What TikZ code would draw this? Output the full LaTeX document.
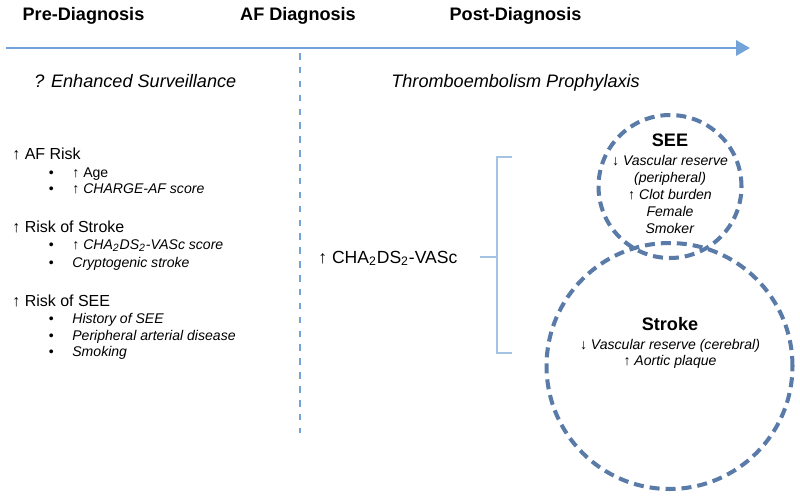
\documentclass[tikz,border=0pt]{standalone}
\usepackage{fontspec}
\setmainfont{Liberation Sans}
\usepackage{tikz}
\usetikzlibrary{positioning, arrows.meta}
\definecolor{lineblue}{HTML}{74A3DA}
\definecolor{ringblue}{HTML}{5A7BA8}
\definecolor{brackblue}{HTML}{A4C4E6}
\newcommand{\bul}{\llap{\textbullet\hskip 10.5pt}}
\newcommand{\ringhead}[1]{{\fontsize{10.3}{12}\selectfont\bfseries #1}}

\begin{document}
\begin{tikzpicture}[x=0.02cm, y=-0.02cm,
  phase/.style={font=\bfseries\fontsize{10.3}{12}\selectfont, anchor=base, inner sep=0pt},
  aim/.style={font=\itshape\fontsize{10.3}{12}\selectfont, anchor=base west, inner sep=0pt},
  risk/.style={font=\fontsize{9.1}{11}\selectfont, anchor=base west, inner sep=0pt},
  item/.style={font=\fontsize{8}{10}\selectfont, anchor=base west, inner sep=0pt},
  ring/.style={circle, draw=ringblue, line width=2.3pt, dash pattern=on 5.7pt off 3.4pt, inner sep=0pt},
  ringtext/.style={font=\fontsize{8}{9.6}\selectfont, align=center, anchor=north, inner sep=0pt}]
\useasboundingbox (0,0) rectangle (800,498);
\coordinate (t0) at (6,48);
\coordinate (t1) at (750,48);
\draw[lineblue, line width=1.7pt, -{Triangle[length=7.9pt, width=8.5pt]}] (t0) -- (t1);
\coordinate (d0) at (300,53);
\coordinate (d1) at (300,433);
\draw[lineblue, line width=0.8pt, dash pattern=on 3.7pt off 4.2pt] (d0) -- (d1);
\node[phase] (pre) at (83.5,20) {Pre-Diagnosis};
\node[phase] (afd) at (298,20) {AF Diagnosis};
\node[phase] (post) at (515.5,20) {Post-Diagnosis};
\node[aim] (surv) at (34,87) {? Enhanced Surveillance};
\node[aim] (proph) at (391,87) {Thromboembolism Prophylaxis};
\node[risk] (afrisk) at (12,159) {↑ AF Risk};
\node[item] (age) at (72,177) {\bul↑ Age};
\node[item] (charge) at (72,193) {\bul↑ \textit{CHARGE-AF score}};
\node[risk] (strrisk) at (12,232) {↑ Risk of Stroke};
\node[item] (vasc) at (72,249) {\bul↑ \textit{CHA\textsubscript{2}DS\textsubscript{2}-VASc score}};
\node[item] (crypto) at (72,267) {\bul\textit{Cryptogenic stroke}};
\node[risk] (seerisk) at (12,306) {↑ Risk of SEE};
\node[item] (hist) at (72,323) {\bul\textit{History of SEE}};
\node[item] (pad) at (72,340) {\bul\textit{Peripheral arterial disease}};
\node[item] (smok) at (72,356) {\bul\textit{Smoking}};
\node[risk, font=\fontsize{10}{12}\selectfont] (cha) at (318,263) {↑ CHA\textsubscript{2}DS\textsubscript{2}-VASc};
\coordinate (bs) at (480,257);
\coordinate (bm) at (497,257);
\coordinate (bt) at (512,157);
\coordinate (bb) at (512,353);
\draw[brackblue, line width=0.6pt] (bs) -- (bm);
\draw[brackblue, line width=0.6pt] (bt) -| (bm) |- (bb);
\node[ring, minimum size=2.86cm] (see) at (670,186.5) {};
\node[ring, minimum size=4.92cm] (stroke) at (669.5,366) {};
\node[ringtext] (seetxt) at (670,134) {\ringhead{SEE}\\[1pt] ↓ \textit{Vascular reserve}\\ \textit{(peripheral)}\\ ↑ \textit{Clot burden}\\ \textit{Female}\\ \textit{Smoker}};
\node[ringtext] (stroketxt) at (670,317) {\ringhead{Stroke}\\[1pt] ↓ \textit{Vascular reserve (cerebral)}\\ ↑ \textit{Aortic plaque}};
\end{tikzpicture}
\end{document}
